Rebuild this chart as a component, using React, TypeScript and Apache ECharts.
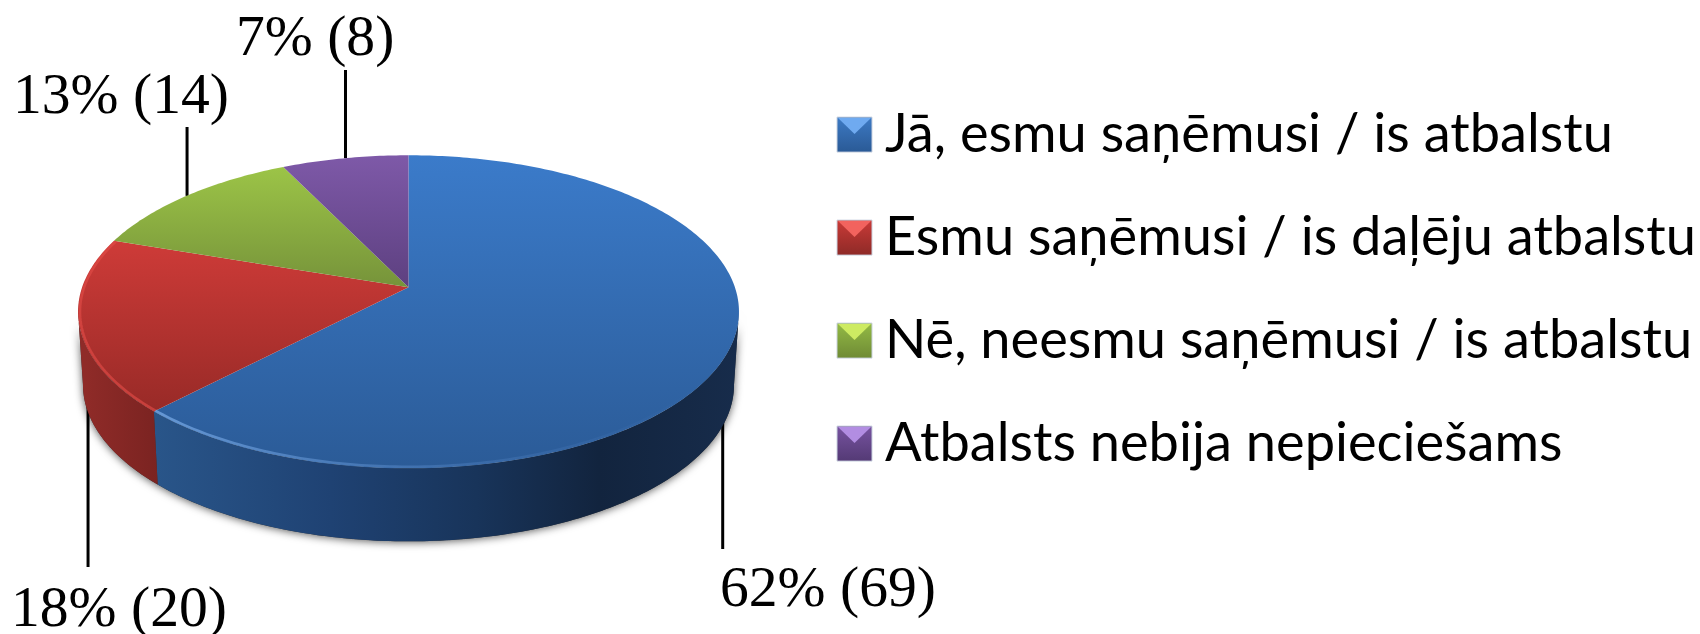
import React, { useEffect, useRef } from "react";
import * as echarts from "echarts";

const categories = [
  "Jā, esmu saņēmusi / is atbalstu",
  "Esmu saņēmusi / is daļēju atbalstu",
  "Nē, neesmu saņēmusi / is atbalstu",
  "Atbalsts nebija nepieciešams",
];
const counts = [69, 20, 14, 8];
const percents = [62, 18, 13, 7];

// style tables
const topColors = [
  ["#3B7BCA", "#2B5B97"],
  ["#CE3B38", "#982A27"],
  ["#9CC447", "#76933A"],
  ["#7E59A8", "#5D4080"],
];
const legendLight = ["#6FAAF0", "#F2635E", "#CDEB62", "#B28DE2"];
const legendBase = [
  ["#3D7AC4", "#2A5A96"],
  ["#C93A37", "#8E2A27"],
  ["#93BA45", "#6F8B35"],
  ["#7753A0", "#543A75"],
];
// leader line end (y) and label anchor
const leaderEndY = [549, 567, 127, 70];
const labelX = [720, 11, 13, 236];
const labelTop = [557, 577, 64, 6];

const APEX_X = 408.5, APEX_Y = 287.3, A = 326.4, B = 152.7, P = 0.1566, DEPTH = 73, INSET = 0.985;
const TAU = Math.PI * 2;
const total = counts.reduce((a, b) => a + b, 0);
const SIDE_R = Math.acos(-P), SIDE_L = TAU - Math.acos(-P);
const LEGEND_X = 837, LEGEND_Y = 134.6, LEGEND_STEP = 103, MARK = 35, LINE_H = 60, TEXT_LIFT = 3.2;

function proj(t: number): [number, number] {
  const u = Math.sin(t), v = -Math.cos(t), d = 1 - P * v;
  return [APEX_X + (A * u) / d, APEX_Y + (B * v) / d];
}
function projLow(t: number): [number, number] {
  const [x, y] = proj(t);
  return [APEX_X + (x - APEX_X) * INSET, y + DEPTH];
}
function arc(f: (t: number) => [number, number], a: number, b: number) {
  const out: [number, number][] = [];
  const n = Math.max(2, Math.ceil(Math.abs(b - a) / 0.015));
  for (let i = 0; i <= n; i++) out.push(f(a + ((b - a) * i) / n));
  return out;
}
function grad(x0: number, y0: number, x1: number, y1: number, stops: [number, string][]) {
  return new echarts.graphic.LinearGradient(x0, y0, x1, y1, stops.map(([offset, color]) => ({ offset, color })), true);
}
const sideFills = [
  grad(156, 0, 739, 0, [[0, "#295589"], [0.3, "#1F4273"], [0.55, "#18345A"], [0.76, "#12243E"], [1, "#172C4B"]]),
  grad(85, 0, 160, 0, [[0, "#8F2B28"], [1, "#7A2321"]]),
  "#000",
  "#000",
];
const rimStrokes = [
  grad(156, 0, 700, 0, [[0, "rgba(125,175,235,0.7)"], [0.5, "rgba(100,150,215,0.35)"], [1, "rgba(80,130,200,0)"]]),
  "rgba(225,75,70,0.65)",
];

function renderItem(params: any, api: any) {
  const i = api.value(0);
  const value = api.value(1);
  const before = counts.slice(0, i).reduce((a, b) => a + b, 0);
  const a0 = (before / total) * TAU;
  const a1 = ((before + value) / total) * TAU;
  const mid = (a0 + a1) / 2;
  const children: any[] = [];

  if (i === 0) {
    children.push({
      type: "polygon",
      z2: 1,
      silent: true,
      shape: { points: [...arc(proj, SIDE_R, SIDE_L), ...arc(projLow, SIDE_L, SIDE_R)] },
      style: { fill: "#333", shadowColor: "rgba(0,0,0,0.65)", shadowBlur: 9, shadowOffsetY: 1 },
    });
  }

  // leader line, tucked beneath the pie
  const [mx, my] = proj(mid);
  const front = Math.cos(mid) < 0;
  const lx = front ? APEX_X + (mx - APEX_X) * 0.975 + 0.6 : mx + 0.6;
  children.push({
    type: "line",
    z2: front ? 2 : 1,
    silent: true,
    shape: { x1: lx, y1: front ? my + DEPTH - 12 : my, x2: lx, y2: leaderEndY[i] },
    style: { stroke: "#000", lineWidth: 3 },
  });

  // wall
  const s0 = Math.max(a0, SIDE_R), s1 = Math.min(a1, SIDE_L);
  if (s1 > s0) {
    children.push({
      type: "polygon",
      z2: 3,
      silent: true,
      shape: { points: [...arc(proj, s0, s1), ...arc(projLow, s1, s0)] },
      style: { fill: sideFills[i] },
    });
  }

  // top face
  const edge = arc(proj, a0, a1);
  const ys = edge.map((p) => p[1]).concat(APEX_Y);
  children.push({
    type: "polygon",
    z2: 4,
    silent: true,
    shape: { points: [[APEX_X, APEX_Y], ...edge] },
    style: {
      fill: grad(0, Math.min(...ys), 0, Math.max(...ys), [[0, topColors[i][0]], [1, topColors[i][1]]]),
    },
  });
  // bevel along the near rim
  if (i < 2) {
    const rim = arc(proj, Math.max(a0, SIDE_R), a1);
    children.push({
      type: "polyline",
      z2: 5,
      silent: true,
      shape: {
        points: rim.map(([x, y]) => [APEX_X + (x - APEX_X) * 0.994, 312 + (y - 312) * 0.99]),
      },
      style: { fill: "none", stroke: rimStrokes[i], lineWidth: 2.6 },
    });
  }

  // data label
  children.push({
    type: "text",
    z2: 6,
    silent: true,
    style: {
      x: labelX[i],
      y: labelTop[i],
      text: `${percents[i]}% (${value})`,
      font: '57.6px "Liberation Serif"',
      fill: "#000",
      textAlign: "left",
      textBaseline: "top",
    },
  });

  // bevelled legend marker, laid over the legend's own symbol
  const top = LEGEND_Y + LEGEND_STEP * i - MARK / 2;
  children.push({
    type: "rect",
    z2: 9,
    silent: true,
    shape: { x: LEGEND_X, y: top, width: MARK, height: MARK },
    style: {
      fill: grad(0, top, 0, top + MARK, [[0, legendBase[i][0]], [1, legendBase[i][1]]]),
      stroke: "#CBD3E0",
      lineWidth: 1,
    },
  });
  children.push({
    type: "polygon",
    z2: 10,
    silent: true,
    shape: { points: [[LEGEND_X + 1, top + 1], [LEGEND_X + MARK - 1, top + 1], [LEGEND_X + MARK / 2, top + 17]] },
    style: { fill: legendLight[i] },
  });
  return { type: "group", children };
}

export default function App() {
  const ref = useRef<HTMLDivElement>(null);
  useEffect(() => {
    document.body.style.margin = "0";
    const chart = echarts.init(ref.current!, undefined, { renderer: "svg" });
    chart.setOption({
      animation: false,
      backgroundColor: "#fff",
      legend: {
        show: true,
        z: 1,
        orient: "vertical",
        left: LEGEND_X,
        top: LEGEND_Y - LINE_H / 2 - TEXT_LIFT,
        padding: 0,
        icon: "rect",
        itemWidth: MARK,
        itemHeight: MARK - 2 * TEXT_LIFT - 2,
        itemGap: LEGEND_STEP - LINE_H,
        selectedMode: false,
        textStyle: {
          fontFamily: "Lato",
          fontSize: 54.2,
          lineHeight: LINE_H,
          color: "#000",
          padding: [0, 0, 0, 8],
        },
        data: categories,
      },
      series: categories.map((name, i) => ({
        type: "custom",
        name,
        coordinateSystem: "none",
        silent: true,
        itemStyle: { color: legendBase[i][0] },
        renderItem,
        data: [[i, counts[i]]],
      })),
    });
    return () => chart.dispose();
  }, []);
  return <div ref={ref} style={{ position: "absolute", left: 0, top: 0, width: 1700, height: 634 }} />;
}
